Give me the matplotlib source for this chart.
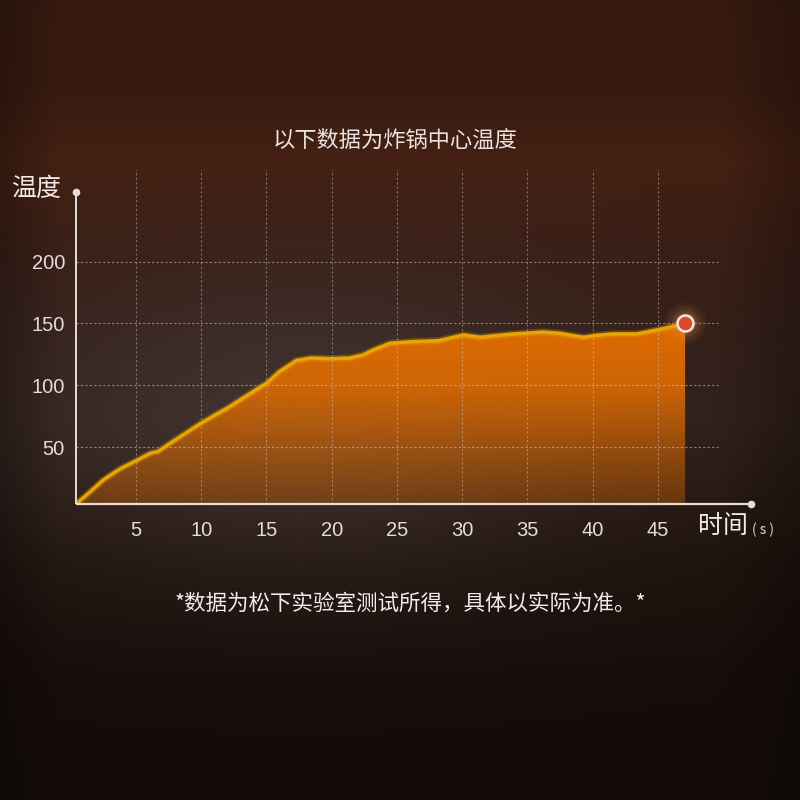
import numpy as np
import matplotlib
matplotlib.use("Agg")
import matplotlib.pyplot as plt
from matplotlib.patches import Polygon

# ---- data ----
time_s = [0.4, 1.5, 2.5, 3.2, 3.8, 4.9, 6.1, 6.7, 7.6, 10.0, 12.2, 14.6, 15.0,
          16.0, 17.3, 18.4, 19.9, 21.4, 22.4, 23.2, 24.5, 26.3, 28.2, 30.1,
          31.4, 33.7, 36.2, 37.5, 39.3, 40.3, 41.6, 43.4, 44.9, 46.7, 47.1]
temp_c = [4, 14, 23.5, 28.5, 32.5, 38.4, 45, 46.5, 53, 69.4, 82.8, 99, 101.5,
          111, 120, 122, 121.5, 122, 124.5, 128.6, 134, 135.3, 136, 140.7,
          138.8, 141.3, 143, 142, 138.8, 140.4, 141.5, 141.5, 144.7, 148.8, 150]
x_ticks = [5, 10, 15, 20, 25, 30, 35, 40, 45]
y_ticks = [50, 100, 150, 200]
title = "以下数据为炸锅中心温度"
y_label = "温度"
x_label = "时间"
x_unit = "( s )"
footnote = "*数据为松下实验室测试所得，具体以实际为准。*"

CJK = ['Noto Sans CJK SC', 'DejaVu Sans']
W = H = 800

fig = plt.figure(figsize=(8, 8), dpi=100)

# ---- background ----
bg_ax = fig.add_axes([0, 0, 1, 1], zorder=-10)
yy, xx = np.mgrid[0:H, 0:W].astype(float)
stops_y = [0, 90, 160, 260, 420, 560, 680, 800]
stops_c = np.array([[54, 26, 15], [56, 27, 16], [68, 32, 18], [56, 30, 22],
                    [46, 30, 24], [30, 18, 13], [22, 13, 10], [20, 12, 9]], float)
base = np.stack([np.interp(yy, stops_y, stops_c[:, k]) for k in range(3)], -1)
glow = np.exp(-(((xx - 300) / 300.0) ** 2 + ((yy - 420) / 150.0) ** 2))
glow_c = np.array([72, 59, 56], float)
img = base * (1 - 0.7 * glow[..., None]) + glow_c * 0.7 * glow[..., None]
edge = np.clip(xx / 60.0, 0, 1) * np.clip((W - xx) / 80.0, 0, 1)
img = img * (0.75 + 0.25 * edge[..., None])
bg_ax.imshow(img.astype(np.uint8), extent=[0, W, H, 0], aspect='auto')
bg_ax.set_xlim(0, W); bg_ax.set_ylim(H, 0)
bg_ax.axis('off')

# ---- main axes ----
ax = fig.add_axes([76 / W, (H - 504) / H, (751 - 76) / W, (504 - 170) / H])
ax.set_facecolor('none')
x0, x1 = 0.4, 52.15
y0, y1 = 4, 274
ax.set_xlim(x0, x1)
ax.set_ylim(y0, y1)
for s in ax.spines.values():
    s.set_visible(False)

# gradient fill under curve
poly_xy = np.column_stack([time_s + [time_s[-1], time_s[0]],
                           temp_c + [y0, y0]])
poly = Polygon(poly_xy, closed=True, facecolor='none', edgecolor='none')
ax.add_patch(poly)
gy = np.linspace(0, 1, 256)[:, None]
ys = y0 + gy * (max(temp_c) - y0)
alpha = np.interp(ys, [y0, 50, 100, 150], [0.34, 0.58, 0.9, 1.0])
orange = np.array([224, 108, 2]) / 255.0
grad = np.zeros((256, 2, 4))
grad[..., :3] = orange
grad[..., 3] = alpha
im = ax.imshow(grad, extent=[time_s[0], time_s[-1], y0, max(temp_c)],
               origin='lower', aspect='auto', zorder=2, interpolation='bilinear')
im.set_clip_path(poly)

# grid
grid_col = (0.85, 0.80, 0.78)
for xv in x_ticks:
    ax.plot([xv, xv], [y0, y1], color=grid_col, lw=0.8, alpha=0.45,
            ls=(0, (2, 2)), zorder=3)
for yv in y_ticks:
    ax.plot([x0, 49.6], [yv, yv], color=grid_col, lw=0.8, alpha=0.55,
            ls=(0, (2, 2)), zorder=3, clip_on=False)

# curve
ax.plot(time_s, temp_c, color='#f0b000', lw=5, alpha=0.25, zorder=4,
        solid_joinstyle='round', solid_capstyle='round')
ax.plot(time_s, temp_c, color='#e8a400', lw=2.5, zorder=5,
        solid_joinstyle='round', solid_capstyle='round')

# end marker with soft glow
for ms, a in [(30, 0.05), (25, 0.07), (20, 0.10), (16, 0.14)]:
    ax.plot(time_s[-1], temp_c[-1], 'o', ms=ms, color='#ff9a50', alpha=a,
            zorder=6, clip_on=False, mec='none')
ax.plot(time_s[-1], temp_c[-1], 'o', ms=11.5, mfc='#d94a2a', mec='#f2e6e0',
        mew=1.8, zorder=7, clip_on=False)

# axes lines with end dots
axis_col = '#e6ddd8'
ax.plot([x0, x0], [y0, 256], color=axis_col, lw=1.4, zorder=8, clip_on=False,
        solid_capstyle='butt')
ax.plot([x0, x1], [y0, y0], color=axis_col, lw=1.6, zorder=8, clip_on=False,
        solid_capstyle='butt')
ax.plot([x0], [256], 'o', ms=4.5, color=axis_col, zorder=8, clip_on=False)
ax.plot([x1], [y0], 'o', ms=4.5, color=axis_col, zorder=8, clip_on=False)

# ticks
ax.set_xticks(x_ticks)
ax.set_xticklabels([str(v) for v in x_ticks])
ax.set_yticks(y_ticks)
ax.set_yticklabels([str(v) for v in y_ticks])
ax.tick_params(length=0, colors='#e4dcd8', labelsize=14.5)
ax.tick_params(axis='x', pad=12)
ax.tick_params(axis='y', pad=8)
for lab in ax.get_xticklabels() + ax.get_yticklabels():
    lab.set_fontfamily('Liberation Sans')
    lab.set_color('#e4dcd8')

# ---- texts ----
def ftxt(px, py, s, **kw):
    fig.text(px / W, 1 - py / H, s, **kw)

ftxt(395.5, 141.5, title, ha='center', va='center', fontsize=16,
     color='#ebe3df', family=CJK)
ftxt(11, 189, y_label, ha='left', va='center', fontsize=18,
     color='#f2ebe7', family=CJK)
ftxt(698, 526, x_label, ha='left', va='center', fontsize=18,
     color='#f2ebe7', family=CJK)
ftxt(752, 530, x_unit, ha='left', va='center', fontsize=10,
     color='#e4dcd8', family=CJK)
ftxt(410, 604, footnote, ha='center', va='center', fontsize=15.5,
     color='#f2ede9', family=CJK)

fig.savefig('out.png', dpi=100)
